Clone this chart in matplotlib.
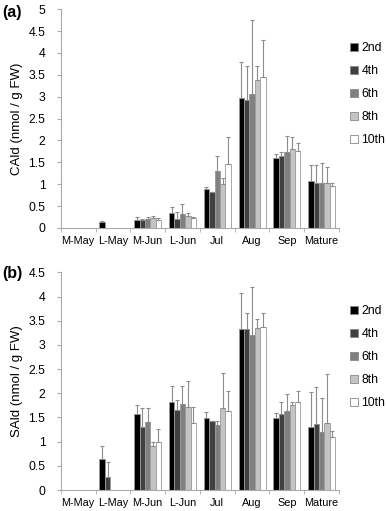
import numpy as np
import matplotlib
matplotlib.use("Agg")
import matplotlib.pyplot as plt
from matplotlib.patches import Patch

plt.rcParams['font.family'] = ['Liberation Sans', 'DejaVu Sans']

months = ["M-May", "L-May", "M-Jun", "L-Jun", "Jul", "Aug", "Sep", "Mature"]
leaves = ["2nd", "4th", "6th", "8th", "10th"]
colors = ["#000000", "#404040", "#808080", "#c4c4c4", "#ffffff"]

# CAld means (rows = leaf, cols = month), and top of error bar
cald = [
    [0, 0.13, 0.18, 0.35, 0.90, 2.97, 1.59, 1.07],
    [0, 0, 0.18, 0.20, 0.81, 2.93, 1.64, 1.02],
    [0, 0, 0.20, 0.31, 1.29, 3.07, 1.74, 1.02],
    [0, 0, 0.22, 0.27, 1.01, 3.39, 1.80, 1.02],
    [0, 0, 0.19, 0.23, 1.47, 3.46, 1.75, 0.95],
]
cald_top = [
    [0, 0.15, 0.25, 0.47, 0.94, 3.79, 1.70, 1.44],
    [0, 0, 0.20, 0.37, 0.83, 3.69, 1.74, 1.44],
    [0, 0, 0.25, 0.55, 1.65, 4.75, 2.11, 1.49],
    [0, 0, 0.27, 0.33, 1.13, 3.71, 2.07, 1.40],
    [0, 0, 0.22, 0.24, 2.08, 4.30, 1.93, 1.02],
]

sald = [
    [0, 0.64, 1.57, 1.81, 1.48, 3.32, 1.49, 1.30],
    [0, 0.27, 1.31, 1.66, 1.42, 3.32, 1.57, 1.36],
    [0, 0, 1.41, 1.78, 1.35, 3.21, 1.63, 1.21],
    [0, 0, 0.91, 1.72, 1.70, 3.36, 1.75, 1.39],
    [0, 0, 1.00, 1.39, 1.64, 3.38, 1.82, 1.10],
]
sald_top = [
    [0, 0.91, 1.75, 2.15, 1.62, 4.07, 1.60, 2.03],
    [0, 0.57, 1.70, 1.86, 1.42, 3.65, 1.82, 2.14],
    [0, 0, 1.70, 2.16, 1.43, 4.19, 1.98, 1.90],
    [0, 0, 1.00, 2.26, 2.42, 3.53, 1.82, 2.40],
    [0, 0, 1.27, 1.71, 2.05, 3.65, 2.05, 1.22],
]


def draw_panel(ax, vals, tops, ymax, ylab, tag, tag_y):
    x = np.arange(len(months))
    w = 0.155
    for i in range(len(leaves)):
        v = np.asarray(vals[i])
        t = np.asarray(tops[i])
        pos = x + (i - 2) * w
        ax.bar(pos, v, w, color=colors[i], edgecolor="#999999", linewidth=0.6, zorder=2)
        err = t - v
        mask = t > 0
        ax.errorbar(pos[mask], v[mask], yerr=[np.zeros(mask.sum()), err[mask]],
                    fmt="none", ecolor="#8c8c8c", elinewidth=0.8, capsize=1.2,
                    capthick=0.8, zorder=3)
    ax.set_xlim(-0.5, len(months) - 0.5)
    ax.set_ylim(0, ymax)
    ax.set_yticks(np.arange(0, ymax + 0.01, 0.5))
    ax.set_yticklabels(["%g" % v for v in np.arange(0, ymax + 0.01, 0.5)])
    ax.set_xticks(x)
    ax.set_xticklabels(months)
    ax.set_xticks(np.arange(-0.5, len(months)), minor=True)
    ax.tick_params(axis="x", which="major", length=0, labelsize=7.8, pad=6)
    ax.tick_params(axis="x", which="minor", length=3, color="#aaaaaa")
    ax.tick_params(axis="y", length=3, color="#aaaaaa", labelsize=8.8, pad=8)
    for s in ["top", "right"]:
        ax.spines[s].set_visible(False)
    for s in ["left", "bottom"]:
        ax.spines[s].set_color("#aaaaaa")
        ax.spines[s].set_linewidth(0.8)
    ax.set_ylabel(ylab, fontsize=9.5, labelpad=4)
    handles = [Patch(facecolor=colors[i], edgecolor="#888888", linewidth=0.6) for i in range(5)]
    ax.legend(handles, leaves, loc="center left", bbox_to_anchor=(1.0, 0.61),
              frameon=False, fontsize=8.8, handlelength=0.65, handleheight=0.65,
              handletextpad=0.3, labelspacing=0.9)
    fig.text(0.006, tag_y, tag, fontsize=11.5, fontweight="bold",
             ha="left", va="center")


fig = plt.figure(figsize=(3.87, 5.11), dpi=100)
ax1 = fig.add_axes([0.157, 0.554, 0.719, 0.428])
ax2 = fig.add_axes([0.157, 0.041, 0.719, 0.426])
draw_panel(ax1, cald, cald_top, 5, "CAld (nmol / g FW)", "(a)", 1 - 12 / 511)
draw_panel(ax2, sald, sald_top, 4.5, "SAld (nmol / g FW)", "(b)", 1 - 273 / 511)
fig.savefig("out.png", dpi=100)
